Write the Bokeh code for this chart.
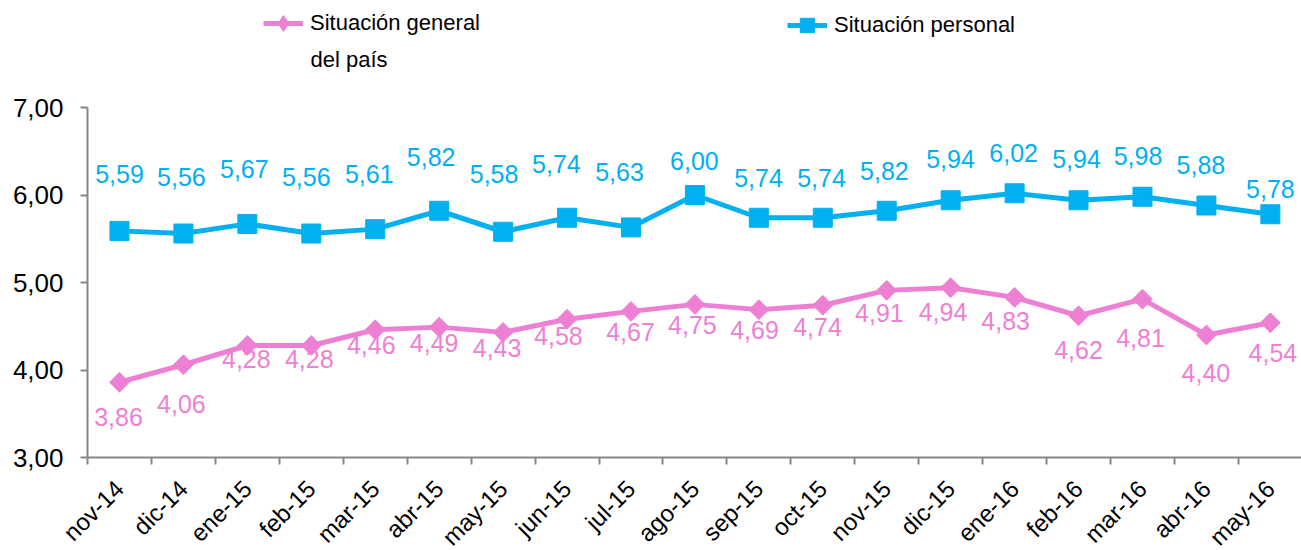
import math
from bokeh.plotting import figure
from bokeh.models import (ColumnDataSource, Range1d, FixedTicker, Legend, LegendItem, Label)
from bokeh.core.properties import value
from bokeh.embed import file_html
from bokeh.resources import INLINE

# ---- data ----
months = ["nov-14", "dic-14", "ene-15", "feb-15", "mar-15", "abr-15", "may-15", "jun-15",
          "jul-15", "ago-15", "sep-15", "oct-15", "nov-15", "dic-15", "ene-16", "feb-16",
          "mar-16", "abr-16", "may-16"]
general = [3.86, 4.06, 4.28, 4.28, 4.46, 4.49, 4.43, 4.58, 4.67, 4.75, 4.69, 4.74,
           4.91, 4.94, 4.83, 4.62, 4.81, 4.40, 4.54]
personal = [5.59, 5.56, 5.67, 5.56, 5.61, 5.82, 5.58, 5.74, 5.63, 6.00, 5.74, 5.74,
            5.82, 5.94, 6.02, 5.94, 5.98, 5.88, 5.78]
y_ticks = [3, 4, 5, 6, 7]
y_tick_labels = ["3,00", "4,00", "5,00", "6,00", "7,00"]
name_general = "Situación general"
name_general_2 = "del país"
name_personal = "Situación personal"

# ---- label placement (pixels, style only) ----
pers_dx = [0, -2, -3, -5, -6, -8, -9, -10.6, -11.5, -0.5, -0.4, -1.3, -2.3, -0.2, -1, -2, -4.5, -5.5, 0]
pers_dy = [57, 57, 55, 57, 55, 53.5, 57.6, 53.6, 55, 34, 40, 40, 39.5, 41, 40, 41, 40.5, 41, 25]
gen_dx = [-1, -2, -1, -2, -4, -5, -6, -8.6, -0.5, -2.5, -4.4, -5.3, -7.3, -7.7, -9, 0, -2, -0.5, 2.5]
gen_dy = [34.7, 39.4, 13.4, 13.7, 15.5, 16, 16, 17, 21, 21, 20.6, 22, 23, 24.4, 24, 34.5, 39, 38, 30.5]

PINK = "#EE80D4"
BLUE = "#00B0F0"
AXIS = "#868686"
FONT = "Liberation Sans"

fmt = lambda v: f"{v:.2f}".replace(".", ",")
xs = list(range(len(months)))

src_g = ColumnDataSource(dict(x=xs, y=general, t=[fmt(v) for v in general],
                              dx=gen_dx, dy=gen_dy))
src_p = ColumnDataSource(dict(x=xs, y=personal, t=[fmt(v) for v in personal],
                              dx=pers_dx, dy=[-d for d in pers_dy]))
# legend-only source: a single NaN point, never drawn on the plot
key_src = ColumnDataSource(dict(x=[float("nan")], y=[float("nan")]))

FH = 457          # frame height in px (extends to top of canvas, holds legend)
UNIT = 87.5       # px per y unit
p = figure(frame_width=1214, frame_height=FH, output_backend="svg", toolbar_location=None,
           x_range=Range1d(-0.5, 18.487), y_range=Range1d(3, 3 + FH / UNIT),
           min_border_left=87, min_border_top=0, min_border_bottom=93, min_border_right=0)
p.outline_line_color = None
p.xgrid.visible = False
p.ygrid.visible = False
p.background_fill_color = "white"
p.border_fill_color = "white"

# lines & markers
lg = p.line("x", "y", source=src_g, line_color=PINK, line_width=5)
p.scatter("x", "y", source=src_g, marker="square", angle=math.pi / 4, size=14,
          fill_color=PINK, line_color=PINK)
lp = p.line("x", "y", source=src_p, line_color=BLUE, line_width=5)
p.scatter("x", "y", source=src_p, marker="square", size=19,
          fill_color=BLUE, line_color=BLUE)

# legend-only marker renderers
kg = p.scatter("x", "y", source=key_src, marker="diamond", size=18, fill_color=PINK, line_color=PINK)
kp = p.scatter("x", "y", source=key_src, marker="square", size=14, fill_color=BLUE, line_color=BLUE)

# data labels
p.text("x", "y", text="t", source=src_g, x_offset="dx", y_offset="dy",
       text_align="center", text_baseline="middle", text_color=PINK,
       text_font=value(FONT), text_font_size="25px")
p.text("x", "y", text="t", source=src_p, x_offset="dx", y_offset="dy",
       text_align="center", text_baseline="middle", text_color=BLUE,
       text_font=value(FONT), text_font_size="25px")

# axes
xa = p.xaxis[0]
xa.ticker = FixedTicker(ticks=xs, minor_ticks=[i - 0.5 for i in range(len(months) + 1)])
xa.major_label_overrides = {i: m for i, m in enumerate(months)}
xa.major_label_orientation = math.pi / 4
xa.major_tick_line_color = None
xa.major_tick_out = 0
xa.major_tick_in = 0
xa.minor_tick_out = 7
xa.minor_tick_in = 0
xa.minor_tick_line_color = AXIS
xa.minor_tick_line_width = 2
xa.axis_line_color = AXIS
xa.axis_line_width = 2
xa.major_label_text_font = FONT
xa.major_label_text_font_size = "24px"
xa.major_label_text_color = "black"
xa.major_label_standoff = 20

ya = p.yaxis[0]
ya.bounds = (3, 7)
ya.ticker = FixedTicker(ticks=y_ticks, minor_ticks=[])
ya.major_label_overrides = {t: l for t, l in zip(y_ticks, y_tick_labels)}
ya.major_tick_out = 7
ya.major_tick_in = 0
ya.major_tick_line_color = AXIS
ya.major_tick_line_width = 2
ya.axis_line_color = AXIS
ya.axis_line_width = 2
ya.major_label_text_font = FONT
ya.major_label_text_font_size = "26px"
ya.major_label_text_color = "black"
ya.major_label_standoff = 17

# legends (location = bottom-left of the legend box, px from frame bottom-left)
def make_legend(label, renderers, loc, gh):
    lgd = Legend(items=[LegendItem(label=label, renderers=renderers)], location=loc,
                 glyph_width=40, glyph_height=gh, label_standoff=7, padding=0, margin=0,
                 spacing=0, border_line_color=None, background_fill_alpha=0,
                 label_text_font=FONT, label_text_font_size="22px", label_text_color="black",
                 label_height=gh)
    p.add_layout(lgd, "center")
    return lgd

make_legend(name_general, [lg, kg], (176, 412), 44)
make_legend(name_personal, [lp, kp], (700, 414), 36)
p.add_layout(Label(x=223, y=398, x_units="screen", y_units="screen", text=name_general_2,
                   text_font=FONT, text_font_size="22px", text_color="black",
                   text_baseline="alphabetic"))

open("out.html", "w").write(file_html(p, INLINE))
